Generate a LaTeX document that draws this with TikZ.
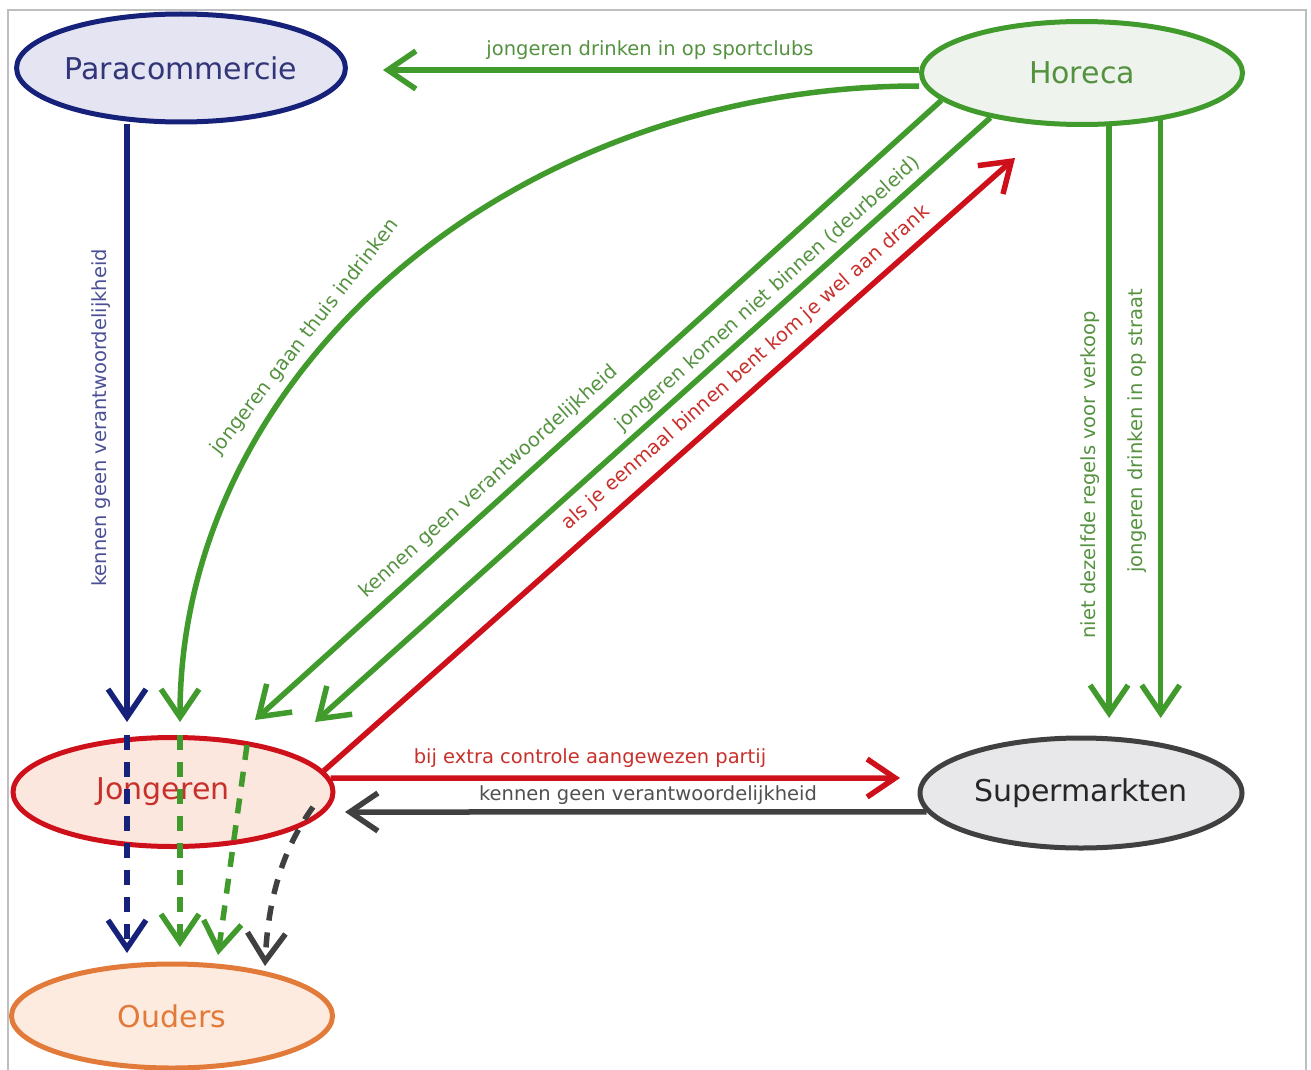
\documentclass[tikz,border=0pt]{standalone}
\usepackage{fontspec}
\setmainfont{DejaVu Sans}
\usetikzlibrary{shapes.geometric,arrows.meta}
\definecolor{navyL}{RGB}{22,34,122}
\definecolor{navyT}{RGB}{50,54,120}
\definecolor{navyS}{RGB}{75,80,150}
\definecolor{paraF}{RGB}{228,228,242}
\definecolor{grnL}{RGB}{64,154,44}
\definecolor{grnT}{RGB}{84,146,64}
\definecolor{horF}{RGB}{238,243,238}
\definecolor{redL}{RGB}{206,16,26}
\definecolor{redT}{RGB}{200,48,44}
\definecolor{jongF}{RGB}{251,231,221}
\definecolor{grayL}{RGB}{64,64,64}
\definecolor{grayT}{RGB}{80,80,80}
\definecolor{supF}{RGB}{232,232,234}
\definecolor{orgL}{RGB}{226,122,58}
\definecolor{oudF}{RGB}{253,235,224}
\definecolor{frameC}{RGB}{190,190,190}

\begin{document}
\begin{tikzpicture}[x=1pt,y=-1pt,
    ent/.style={ellipse, line width=5pt, inner sep=0pt, font=\fontsize{30}{30}\selectfont},
    flow/.style={line width=5.5pt, -{Straight Barb[length=28pt,width=38pt]}},
    dflow/.style={flow, dash pattern=on 15pt off 12pt},
    lbl/.style={inner sep=0pt, font=\fontsize{19.5}{20}\selectfont}]
  \useasboundingbox (0,0) rectangle (1311,1070);
  \draw [frameC, line width=1.5pt] (8,1090) -- (8,10) -- (1306,10) -- (1306,1090);

  \node [ent, draw=navyL, fill=paraF, text=navyT, minimum width=322pt, minimum height=108pt] (para) at (181,68) {Paracommercie};
  \node [ent, draw=grnL, fill=horF, text=grnT, minimum width=321pt, minimum height=103pt] (hor) at (1082,73) {Horeca};
  \node [ent, draw=redL, fill=jongF, text=redT, minimum width=320pt, minimum height=109pt] (jong) at (173,792) {Jongeren\hspace*{20pt}};
  \node [ent, draw=grayL, fill=supF, text=black!85, minimum width=322pt, minimum height=110pt] (sup) at (1081,793) {Supermarkten};
  \node [ent, draw=orgL, fill=oudF, text=orgL, minimum width=321pt, minimum height=104pt] (oud) at (172,1016) {Ouders};

  \coordinate (tPara) at (383,70);
  \coordinate (tNavy) at (127,722);
  \coordinate (tCurve) at (180,722);
  \coordinate (tKen) at (255,720);
  \coordinate (tDeur) at (315,722);
  \coordinate (tRed) at (1015,158);
  \coordinate (tS1) at (1108,718);
  \coordinate (tS2) at (1158,718);
  \coordinate (tSup) at (900,778);
  \coordinate (tJong) at (345,812);
  \coordinate (dNavy) at (127,953);
  \coordinate (dGrn1) at (180,947);
  \coordinate (dGrn2) at (218,955);
  \coordinate (dGray) at (265,966);

  \draw [flow, grnL] ([yshift=3pt]hor.west) -- (tPara);
  \draw [flow, navyL] (para.south -| tNavy) -- (tNavy);
  \draw [flow, grnL] ([yshift=-13pt]hor.west) .. controls (512,86) and (180,371) .. (tCurve);
  \draw [flow, grnL] (hor.191.6) -- (tKen);
  \draw [flow, grnL] (hor.206.6) -- (tDeur);
  \draw [flow, redL] (jong.8.5) -- (tRed);
  \draw [flow, grnL] (hor.-63) -- (hor.-63 |- tS1);
  \draw [flow, grnL] (hor.-31) -- (hor.-31 |- tS2);
  \draw [flow, redL] (jong.5) -- (tSup);
  \draw [flow, grayL] (sup.187) -- (tJong);

  \draw [dflow, navyL] (jong.north -| tNavy) -- (dNavy);
  \draw [dflow, grnL] (jong.north -| tCurve) -- (dGrn1);
  \draw [dflow, grnL] (247,745) -- (dGrn2);
  \draw [dflow, grayL] (313,807) .. controls (282,850) and (268,900) .. (dGray);

  \node [lbl, text=grnT] (l1) at (650,50) {jongeren drinken in op sportclubs};
  \node [lbl, text=navyS, rotate=90] (l2) at (101,418) {kennen geen verantwoordelijkheid};
  \node [lbl, text=grnT, rotate=52] (l3) at (305,337) {jongeren gaan thuis indrinken};
  \node [lbl, text=grnT, rotate=41.8] (l4) at (489,482) {kennen geen verantwoordelijkheid};
  \node [lbl, text=grnT, rotate=41.8] (l5) at (768,294) {jongeren komen niet binnen (deurbeleid)};
  \node [lbl, text=redT, rotate=41.2] (l6) at (746,368) {als je eenmaal binnen bent kom je wel aan drank};
  \node [lbl, text=grnT, rotate=90] (l7) at (1090,475) {niet dezelfde regels voor verkoop};
  \node [lbl, text=grnT, rotate=90] (l8) at (1137,431) {jongeren drinken in op straat};
  \node [lbl, text=redT] (l9) at (590,758) {bij extra controle aangewezen partij};
  \node [lbl, text=grayT] (l10) at (648,795) {kennen geen verantwoordelijkheid};
\end{tikzpicture}
\end{document}
